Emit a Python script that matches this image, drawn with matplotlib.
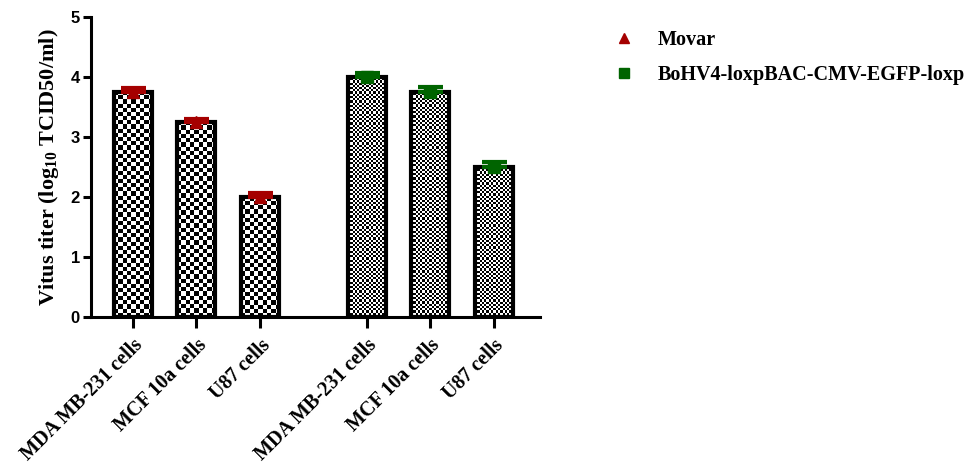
import matplotlib.pyplot as plt
import numpy as np
from matplotlib.lines import Line2D

cells = ["MDA MB-231 cells", "MCF 10a cells", "U87 cells",
         "MDA MB-231 cells", "MCF 10a cells", "U87 cells"]
movar = [3.75, 3.25, 2.0]
movar_err = [0.07, 0.05, 0.06]
bohv4 = [4.0, 3.75, 2.5]
bohv4_err = [0.07, 0.09, 0.08]
series_names = ["Movar", "BoHV4-loxpBAC-CMV-EGFP-loxp"]

serif = ["Liberation Serif", "DejaVu Serif"]
sans = ["Liberation Sans", "DejaVu Sans"]
plt.rcParams["mathtext.fontset"] = "custom"
plt.rcParams["mathtext.bf"] = "Liberation Serif:bold"
plt.rcParams["mathtext.rm"] = "Liberation Serif:bold"
plt.rcParams["mathtext.default"] = "bf"

fig = plt.figure(figsize=(9.8, 4.65), dpi=100)
ax = fig.add_axes([91 / 980, 1 - 317 / 465, (540 - 91) / 980, 300 / 465])

pos1 = np.array([0, 1, 2])
pos2 = pos1 + 3.68
ax.set_xlim(-0.66, 6.41)
ax.set_ylim(0, 5)

width = 0.6
bars1 = ax.bar(pos1, movar, width, facecolor="none", edgecolor="black", linewidth=3, zorder=3)
bars2 = ax.bar(pos2, bohv4, width, facecolor="none", edgecolor="black", linewidth=3, zorder=3)


def checker(bars, cell):
    # checkerboard fill clipped to each bar
    for b in bars:
        x0, y0 = b.get_x(), b.get_y()
        w, h = b.get_width(), b.get_height()
        p0 = ax.transData.transform((x0, y0))
        p1 = ax.transData.transform((x0 + w, y0 + h))
        nx = max(1, int(round((p1[0] - p0[0]) / cell)))
        ny = max(1, int(round((p1[1] - p0[1]) / cell)))
        arr = (np.add.outer(np.arange(ny), np.arange(nx)) % 2).astype(float)
        im = ax.imshow(arr, cmap="gray", extent=(x0, x0 + w, y0, y0 + h),
                       interpolation="nearest", aspect="auto", zorder=2)
        im.set_clip_path(b)


checker(bars1, 4.2)
checker(bars2, 2.2)
ax.set_xlim(-0.66, 6.41)
ax.set_ylim(0, 5)

ax.errorbar(pos1, movar, yerr=[np.zeros(3), movar_err], fmt="^", color="#a50000",
            markersize=8, capsize=9, capthick=3, elinewidth=3, zorder=5)
ax.errorbar(pos2, bohv4, yerr=[np.zeros(3), bohv4_err], fmt="s", color="#006400",
            markersize=8, capsize=9, capthick=3, elinewidth=3, zorder=5)

for s in ["top", "right"]:
    ax.spines[s].set_visible(False)
for s in ["left", "bottom"]:
    ax.spines[s].set_linewidth(2.2)

ax.set_yticks([0, 1, 2, 3, 4, 5])
ax.set_xticks(np.concatenate([pos1, pos2]))
ax.set_xticklabels(cells, rotation=45, ha="right", rotation_mode="anchor",
                   family=serif, fontweight="bold", fontsize=14.5)
for t in ax.get_yticklabels():
    t.set_family(sans)
    t.set_fontweight("bold")
    t.set_fontsize(12)
ax.tick_params(axis="y", width=2.2, length=6, pad=2)
ax.tick_params(axis="x", width=2.2, length=8, pad=5)

ax.set_ylabel("Vitus titer (log$_{10}$ TCID50/ml)", family=serif,
              fontweight="bold", fontsize=16, labelpad=7)

handles = [Line2D([], [], marker="^", color="#a50000", linestyle="none", markersize=7),
           Line2D([], [], marker="s", color="#006400", linestyle="none", markersize=7)]
fig.legend(handles, series_names, loc="upper left", bbox_to_anchor=(586 / 980, 1 - 12 / 465),
           frameon=False, prop={"family": serif, "weight": "bold", "size": 14.5},
           handletextpad=0.65, labelspacing=0.75)

fig.savefig("out.png", dpi=100)
